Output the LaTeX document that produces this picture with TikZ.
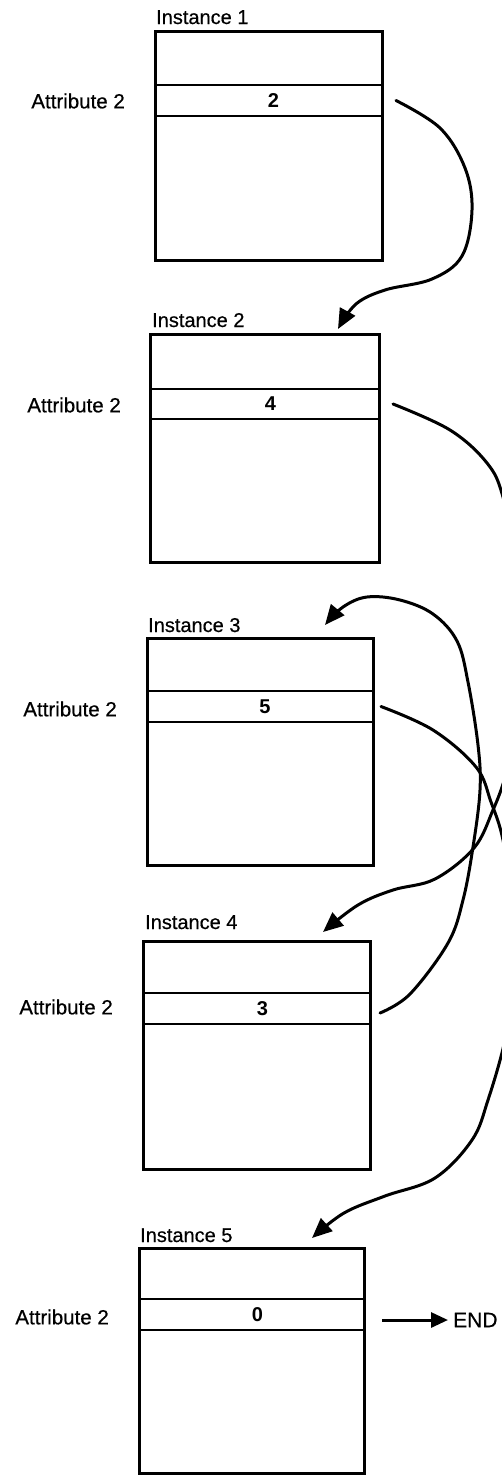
\documentclass[tikz,border=0pt]{standalone}
\usepackage{fontspec}
\setmainfont{Liberation Sans}
\newfontfamily\heavy[FakeBold=0.5]{Liberation Sans}
\usetikzlibrary{arrows.meta}
\begin{document}
\begin{tikzpicture}[x=1pt,y=-1pt,
  box/.style={draw, line width=3pt, minimum width=#1, minimum height=229pt, anchor=north west, inner sep=0pt, outer sep=0pt},
  row/.style={draw, line width=2.8pt, minimum width=#1, minimum height=31pt, anchor=north west, inner sep=0pt, outer sep=0pt, font=\fontsize{20}{20}\selectfont\bfseries},
  attr/.style={anchor=east, font=\fontsize{20.5}{20}\heavy, inner sep=0pt},
  inst/.style={anchor=base west, font=\fontsize{20}{20}\heavy, inner sep=0pt},
  link/.style={line width=3pt, line cap=round, -{Triangle[length=20pt,width=17pt]}},
]
\useasboundingbox (0,0) rectangle (502,1475);
\clip (0,0) rectangle (502,1475);

% instance 1
\node[box=227pt] (b1) at (155,31) {};
\node[row=227pt] (a1) at (155,85) {\hspace*{10pt}2};
\node[inst] (i1) at (156,24) {Instance 1};
\node[attr] (l1) at (125,101) {Attribute 2};

% instance 2
\node[box=229pt, minimum height=228pt] (b2) at (150,334) {};
\node[row=229pt, minimum height=30pt] (a2) at (150,389) {\hspace*{12pt}4};
\node[inst] (i2) at (152,327) {Instance 2};
\node[attr] (l2) at (121,405) {Attribute 2};

% instance 3
\node[box=226pt, minimum height=227pt] (b3) at (147,638) {};
\node[row=226pt] (a3) at (147,691) {\hspace*{10pt}5};
\node[inst] (i3) at (148,632) {Instance 3};
\node[attr] (l3) at (117,709) {Attribute 2};

% instance 4
\node[box=227pt, minimum height=228pt] (b4) at (143,941) {};
\node[row=227pt] (a4) at (143,993) {\hspace*{12pt}3};
\node[inst] (i4) at (145,929) {Instance 4};
\node[attr] (l4) at (113,1007) {Attribute 2};

% instance 5
\node[box=225pt, minimum height=225pt] (b5) at (139,1248) {};
\node[row=225pt] (a5) at (139,1299) {\hspace*{12pt}0};
\node[inst] (i5) at (140,1242) {Instance 5};
\node[attr] (l5) at (109,1317) {Attribute 2};

% connector end points
\coordinate (s1) at ([xshift=14pt]a1.east);
\coordinate (s2) at ([xshift=14pt]a2.east);
\coordinate (s3) at ([xshift=8pt]a3.east);
\coordinate (s4) at (380,1013);
\coordinate (s5) at (382,1320);
\coordinate (t2) at (338,329);
\coordinate (t3) at (325,625);
\coordinate (t4) at (323,932);
\coordinate (t5) at (312,1238);

% 2 -> instance 2
\draw[link] plot[smooth, tension=0.6] coordinates {(s1) (440,128) (465,168) (472,210) (462,256) (432,279) (385,290) (356,304) (t2)};
% 4 -> instance 4
\draw[link] plot[smooth, tension=0.6] coordinates {(s2) (450,430) (487,463) (503,497) (518,570) (522,660) (515,740) (505,778) (493,810) (474,848) (435,879) (393,890) (358,905) (t4)};
% 5 -> instance 5
\draw[link] plot[smooth, tension=0.6] coordinates {(s3) (433,730) (476,767) (491,802) (503,840) (514,910) (514,980) (505,1040) (488,1100) (472,1140) (435,1178) (385,1196) (344,1213) (t5)};
% 3 -> instance 3
\draw[link] plot[smooth, tension=0.6] coordinates {(s4) (410,994) (448,943) (463,900) (473,847) (480,790) (478,745) (468,682) (457,641) (433,614) (400,600) (367,597) (343,607) (t3)};

% END
\node[anchor=west, font=\fontsize{21}{20}\heavy, inner sep=0pt] (end) at (453,1320) {END};
\draw[line width=3pt, -{Triangle[length=17pt,width=15pt]}] (s5) -- ([xshift=-5pt]end.west);
\end{tikzpicture}
\end{document}
